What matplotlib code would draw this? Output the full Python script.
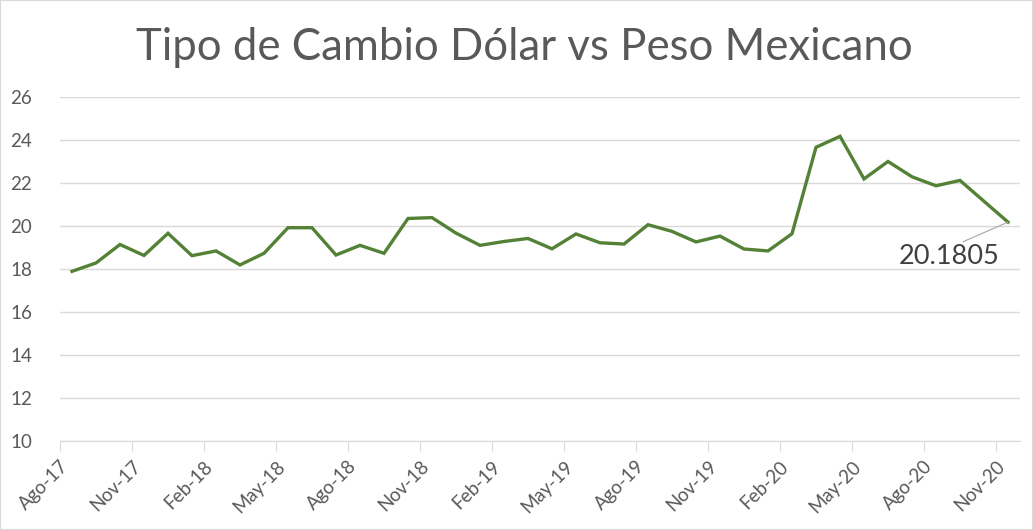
import numpy as np
import matplotlib
matplotlib.use("Agg")
from matplotlib import pyplot as plt
from matplotlib.patches import Rectangle
from matplotlib.transforms import ScaledTranslation

plt.rcParams['font.family'] = ['Lato', 'DejaVu Sans']

# monthly exchange rate, Ago-17 .. Nov-20
valores = [17.89, 18.28, 19.14, 18.63, 19.66, 18.62, 18.84, 18.19, 18.73, 19.92,
           19.92, 18.65, 19.10, 18.73, 20.35, 20.39, 19.67, 19.10, 19.28, 19.42,
           18.94, 19.63, 19.22, 19.16, 20.06, 19.75, 19.26, 19.53, 18.93, 18.84,
           19.64, 23.66, 24.17, 22.19, 23.00, 22.29, 21.87, 22.12, 21.15, 20.1805]
etiquetas = ['Ago-17', 'Nov-17', 'Feb-18', 'May-18', 'Ago-18', 'Nov-18', 'Feb-19',
             'May-19', 'Ago-19', 'Nov-19', 'Feb-20', 'May-20', 'Ago-20', 'Nov-20']
titulo = 'Tipo de Cambio Dólar vs Peso Mexicano'
ultimo = '20.1805'

gris = '#595959'
fig = plt.figure(figsize=(10.33, 5.30), dpi=100)
ax = fig.add_axes([60/1033, 1-441/530, 960/1033, 344/530])

x = np.arange(len(valores))
ax.plot(x, valores, color='#538135', lw=2.4, solid_joinstyle='miter')

ax.set_xlim(-0.5, len(valores) - 0.5)
ax.set_ylim(10, 26)
ax.set_yticks(np.arange(10, 27, 2))
ax.grid(axis='y', color='#d9d9d9', lw=1)
ax.set_axisbelow(True)

ticks = np.arange(len(etiquetas)) * 3 - 0.5
ax.set_xticks(ticks)
ax.set_xticklabels(etiquetas, rotation=45, ha='right', va='top',
                   rotation_mode='anchor', fontsize=13.5, color=gris)
desplaza = ScaledTranslation(13/100, 0, fig.dpi_scale_trans)
for lab in ax.get_xticklabels():
    lab.set_transform(lab.get_transform() + desplaza)
ax.tick_params(axis='x', length=7, color='#d9d9d9', pad=5)
ax.tick_params(axis='y', length=0, pad=20, labelsize=13.5, labelcolor=gris)

for s in ['top', 'right', 'left']:
    ax.spines[s].set_visible(False)
ax.spines['bottom'].set_color('#d9d9d9')

# data label for the last point
ax.annotate(ultimo, xy=(x[-1], valores[-1]), xytext=(1000, 273),
            textcoords='figure pixels', ha='right', va='center',
            fontsize=19.5, color='#404040',
            arrowprops=dict(arrowstyle='-', color='#a6a6a6', lw=0.8,
                            shrinkA=0, shrinkB=0, relpos=(0.57, 1.0)))

fig.text(0.508, 1-47/530, titulo, ha='center', va='center',
         fontsize=31.5, color=gris)

fig.patches.append(Rectangle((0, 0), 1, 1, transform=fig.transFigure,
                             fill=False, edgecolor='#d9d9d9', lw=1.5))

fig.savefig('out.png', dpi=100)
